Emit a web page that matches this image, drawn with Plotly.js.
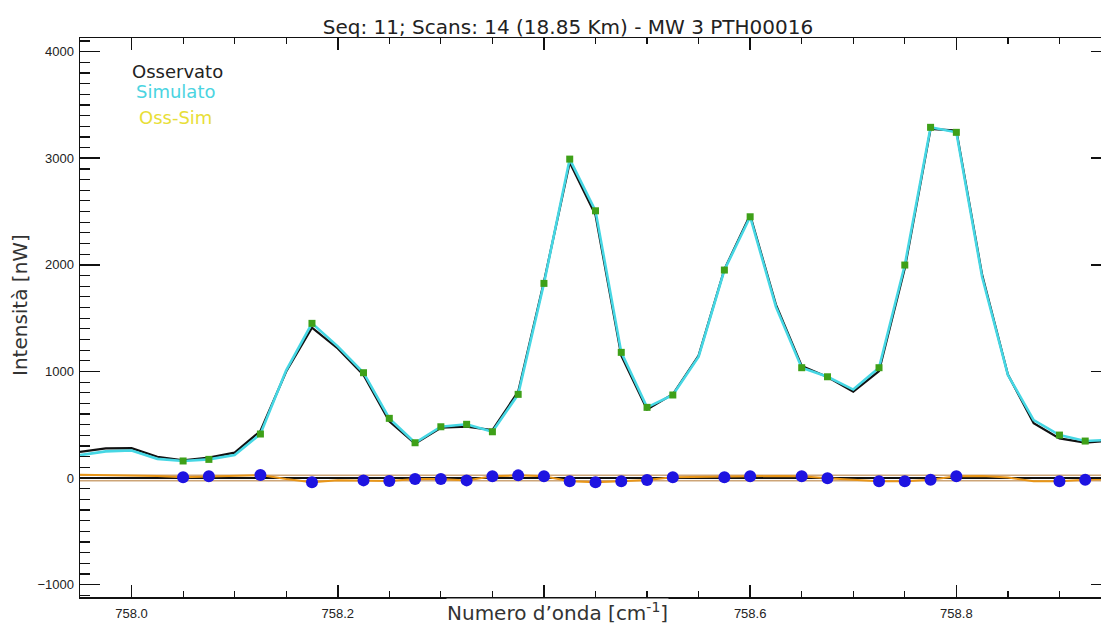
<!DOCTYPE html>
<html>
<head>
<meta charset="utf-8">
<script src="https://cdn.plot.ly/plotly-3.0.1.min.js"></script>
<style>
  html, body { margin: 0; padding: 0; background: #fff; overflow: hidden; }
  #chart { width: 1111px; height: 626px; }
</style>
</head>
<body>
<div id="chart"></div>
<script>
// Spectral grid [cm-1], step 0.025
const wavenumber = [
  757.950, 757.975, 758.000, 758.025, 758.050, 758.075, 758.100, 758.125, 758.150, 758.175,
  758.200, 758.225, 758.250, 758.275, 758.300, 758.325, 758.350, 758.375, 758.400, 758.425,
  758.450, 758.475, 758.500, 758.525, 758.550, 758.575, 758.600, 758.625, 758.650, 758.675,
  758.700, 758.725, 758.750, 758.775, 758.800, 758.825, 758.850, 758.875, 758.900, 758.925,
  758.950
];

// Observed radiance [nW]
const observed = [
  245, 278, 280, 200, 167, 191, 238, 441, 1000, 1411,
  1215, 966, 532, 322, 472, 482, 450, 810, 1842, 2961,
  2467, 1148, 644, 786, 1148, 1958, 2467, 1627, 1051, 947,
  810, 1004, 1967, 3275, 3259, 1906, 971, 514, 372, 332,
  350
];

// Simulated radiance [nW]
const simulated = [
  215, 250, 258, 180, 160, 175, 216, 413, 1010, 1451,
  1235, 988, 560, 331, 481, 504, 434, 785, 1826, 2992,
  2507, 1179, 663, 779, 1138, 1951, 2451, 1607, 1035, 950,
  830, 1035, 1998, 3290, 3243, 1886, 966, 544, 403, 347,
  360
];

// Residual observed - simulated [nW]
const residual = [
  30, 28, 22, 20, 7, 16, 22, 28, -10, -40,
  -20, -22, -28, -9, -9, -22, 16, 25, 16, -31,
  -40, -31, -19, 7, 10, 7, 16, 20, 16, -3,
  -20, -31, -31, -15, 16, 20, 5, -30, -31, -15,
  -10
];

// Grid points used in the retrieval fit
const fitPoints = [4, 5, 7, 9, 11, 12, 13, 14, 15, 16, 17, 18, 19, 20, 21, 22, 23,
                   25, 26, 28, 29, 31, 32, 33, 34, 38, 39];

// Noise level band [nW]
const noiseBand = [-26, 26];

// Wavenumber axis labels (the 758.4 slot sits under the axis title)
const xTickVals = [758.0, 758.2, 758.4, 758.6, 758.8];
const xTickText = ['758.0', '758.2', '', '758.6', '758.8'];

const xRange = [757.95, 758.95];
const yRange = [-1116, 4128];

const fitX = fitPoints.map(i => wavenumber[i]);
const fitSim = fitPoints.map(i => simulated[i]);
const fitRes = fitPoints.map(i => residual[i]);

const traces = [];

noiseBand.forEach(level => {
  traces.push({
    x: xRange, y: [level, level],
    mode: 'lines', line: { color: 'rgb(205,165,120)', width: 1.5 },
    showlegend: false, hoverinfo: 'skip'
  });
});

traces.push({
  x: wavenumber, y: residual, name: 'Oss-Sim',
  mode: 'lines', line: { color: 'rgb(232,150,25)', width: 2 }
});

traces.push({
  x: wavenumber, y: observed, name: 'Osservato',
  mode: 'lines', line: { color: '#111', width: 2.2 }
});

traces.push({
  x: wavenumber, y: simulated, name: 'Simulato',
  mode: 'lines', line: { color: 'rgb(70,215,228)', width: 2.6 }
});

traces.push({
  x: fitX, y: fitSim,
  mode: 'markers',
  marker: { symbol: 'square', size: 7, color: 'rgb(62,160,24)' },
  showlegend: false
});

traces.push({
  x: fitX, y: fitRes,
  mode: 'markers',
  marker: { symbol: 'circle', size: 12, color: 'rgb(30,20,225)' },
  showlegend: false
});

const axisFont = { family: 'Liberation Sans, Arial, sans-serif', size: 13, color: '#222' };
const labelFont = { family: 'DejaVu Sans, Verdana, sans-serif', size: 20, color: '#333' };

const layout = {
  width: 1111,
  height: 626,
  margin: { l: 80, r: 0, t: 38, b: 29, pad: 0 },
  paper_bgcolor: '#fff',
  plot_bgcolor: '#fff',
  showlegend: false,
  title: {
    text: 'Seq: 11; Scans: 14 (18.85 Km) - MW 3 PTH00016',
    font: { family: 'DejaVu Sans, Verdana, sans-serif', size: 20, color: '#222' },
    xref: 'container', x: 568 / 1111, xanchor: 'center',
    yref: 'container', y: 1 - 34 / 626, yanchor: 'bottom'
  },
  xaxis: {
    range: xRange,
    showgrid: false, zeroline: false,
    showline: true, linecolor: '#111', linewidth: 1.5, mirror: 'ticks',
    ticks: 'inside', ticklen: 12, tickwidth: 1.5, tickcolor: '#111',
    tickmode: 'array', tickvals: xTickVals, ticktext: xTickText,
    minor: { dtick: 0.05, tick0: 758.0, ticks: 'inside', ticklen: 6, tickwidth: 1.2, tickcolor: '#111', showgrid: false },
    tickfont: axisFont,
    ticklabelstandoff: 4
  },
  yaxis: {
    range: yRange,
    showgrid: false,
    zeroline: true, zerolinecolor: '#111', zerolinewidth: 1.5,
    showline: true, linecolor: '#111', linewidth: 1.5, mirror: 'ticks',
    ticks: 'inside', ticklen: 20, tickwidth: 1.5, tickcolor: '#111',
    dtick: 1000, tick0: 0,
    minor: { dtick: 100, tick0: 0, ticks: 'inside', ticklen: 10, tickwidth: 1.2, tickcolor: '#111', showgrid: false },
    tickfont: axisFont,
    ticklabelstandoff: 2
  },
  annotations: [
    { text: 'Numero d’onda [cm<sup>-1</sup>]', xref: 'paper', yref: 'paper',
      x: (557 - 80) / 1031, y: -(626 - 597) / 559, xanchor: 'center', yanchor: 'bottom',
      showarrow: false, font: labelFont, bgcolor: '#fff', borderpad: 0 },
    { text: 'Intensità [nW]', xref: 'paper', yref: 'paper', textangle: -90,
      x: -(80 - 6) / 1031, y: (597 - 305) / 559, xanchor: 'left', yanchor: 'middle',
      showarrow: false, font: labelFont },
    { text: 'Osservato', xref: 'paper', yref: 'paper',
      x: (130 - 80) / 1031, y: (597 - 72) / 559, xanchor: 'left', yanchor: 'middle',
      showarrow: false, font: { family: 'DejaVu Sans, Verdana, sans-serif', size: 18, color: '#222' } },
    { text: 'Simulato', xref: 'paper', yref: 'paper',
      x: (134 - 80) / 1031, y: (597 - 92) / 559, xanchor: 'left', yanchor: 'middle',
      showarrow: false, font: { family: 'DejaVu Sans, Verdana, sans-serif', size: 18, color: 'rgb(75,212,225)' } },
    { text: 'Oss-Sim', xref: 'paper', yref: 'paper',
      x: (137 - 80) / 1031, y: (597 - 117) / 559, xanchor: 'left', yanchor: 'middle',
      showarrow: false, font: { family: 'DejaVu Sans, Verdana, sans-serif', size: 18, color: 'rgb(232,222,55)' } }
  ]
};

Plotly.newPlot('chart', traces, layout, { staticPlot: true, displayModeBar: false });
</script>
</body>
</html>
